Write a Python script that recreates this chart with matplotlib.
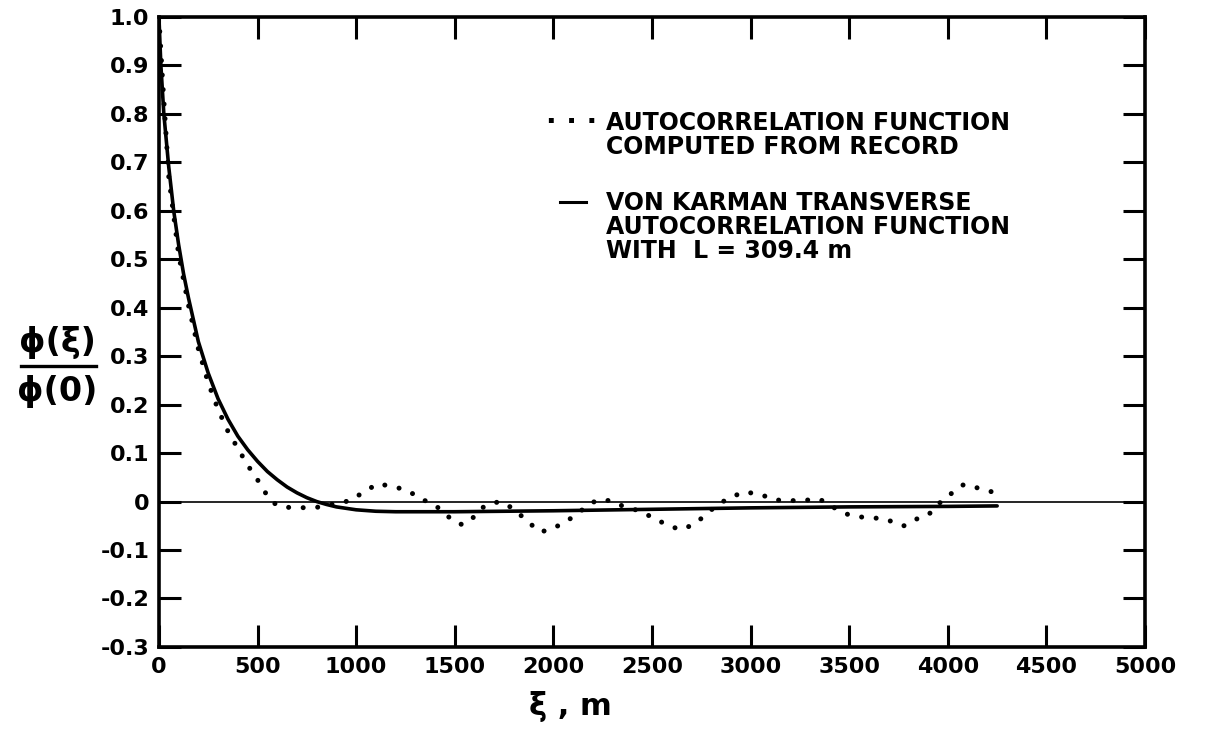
import numpy as np
import matplotlib
matplotlib.use('Agg')
import matplotlib.pyplot as plt

plt.rcParams['font.family'] = ['DejaVu Sans']

# von Karman transverse autocorrelation, L = 309.4 m
vk_x = [0, 10, 25, 50, 75, 100, 125, 150, 200, 250, 300, 350, 400, 450, 500,
        550, 600, 650, 700, 750, 800, 850, 900, 1000, 1100, 1200, 1500, 2000,
        2500, 3000, 3500, 4000, 4250]
vk_y = [1.0, 0.90, 0.80, 0.69, 0.60, 0.53, 0.47, 0.42, 0.33, 0.265, 0.212, 0.17,
        0.135, 0.107, 0.083, 0.062, 0.045, 0.030, 0.018, 0.008, 0.0, -0.006,
        -0.011, -0.017, -0.020, -0.021, -0.021, -0.019, -0.016, -0.013, -0.011,
        -0.010, -0.009]

# autocorrelation computed from record (dotted)
rec_x = [0, 20, 50, 100, 150, 200, 250, 300, 350, 400, 450, 500, 530, 560, 600,
         650, 700, 750, 800, 850, 900, 970, 1040, 1110, 1170, 1225, 1280, 1325,
         1390, 1440, 1490, 1540, 1590, 1615, 1665, 1730, 1800, 1865, 1935, 2000,
         2070, 2120, 2170, 2220, 2290, 2355, 2405, 2490, 2575, 2643, 2710, 2780,
         2815, 2880, 2965, 3050, 3115, 3170, 3250, 3350, 3420, 3500, 3580, 3670,
         3745, 3777, 3847, 3900, 3930, 3980, 4030, 4080, 4122, 4173, 4225, 4264]
rec_y = [1.0, 0.86, 0.67, 0.51, 0.405, 0.315, 0.245, 0.19, 0.145, 0.11, 0.075,
         0.045, 0.025, 0.005, -0.008, -0.012, -0.012, -0.013, -0.012, -0.008,
         -0.004, 0.002, 0.02, 0.037, 0.032, 0.027, 0.018, 0.006, -0.005, -0.02,
         -0.04, -0.048, -0.035, -0.02, -0.006, 0.0, -0.015, -0.04, -0.063,
         -0.055, -0.04, -0.025, -0.01, 0.003, 0.002, -0.01, -0.015, -0.03,
         -0.048, -0.058, -0.048, -0.025, -0.012, 0.005, 0.02, 0.015, 0.004,
         0.002, 0.002, 0.005, -0.012, -0.028, -0.033, -0.035, -0.045, -0.05,
         -0.035, -0.028, -0.015, 0.006, 0.02, 0.035, 0.032, 0.025, 0.02, 0.016]

xticks = np.arange(0, 5001, 500)
yticks = np.round(np.arange(-0.3, 1.01, 0.1), 1)
ytick_labels = ['-0.3', '-0.2', '-0.1', '0', '0.1', '0.2', '0.3', '0.4', '0.5',
                '0.6', '0.7', '0.8', '0.9', '1.0']

fig = plt.figure(figsize=(12.13, 7.36), dpi=100)
ax = fig.add_axes([0.131, 0.121, 0.813, 0.856])

ax.axhline(0, color='black', lw=1.2, zorder=1)
ax.plot(vk_x, vk_y, color='black', lw=2.6, solid_capstyle='round',
        solid_joinstyle='round', zorder=3)
ax.plot(rec_x, rec_y, color='black', lw=3.6, linestyle=(0, (0.01, 2.9)),
        dash_capstyle='round', zorder=2)

ax.set_xlim(0, 5000)
ax.set_ylim(-0.3, 1.0)
ax.set_xticks(xticks)
ax.set_xticklabels([str(v) for v in xticks])
ax.set_yticks(yticks)
ax.set_yticklabels(ytick_labels)
ax.tick_params(direction='in', length=16, width=2.2, top=True, right=True,
               labelsize=16, pad=7)
for lab in ax.get_xticklabels() + ax.get_yticklabels():
    lab.set_fontweight('bold')
for s in ax.spines.values():
    s.set_linewidth(2.6)

ax.text(0.417, -0.095, '\u03be , m', transform=ax.transAxes, fontsize=22,
        fontweight='bold', ha='center', va='center')

# y label as a stacked fraction
fig.text(0.047, 0.535, '\u03d5(\u03be)', fontsize=24, fontweight='bold',
         ha='center', va='center')
fig.text(0.047, 0.468, '\u03d5(0)', fontsize=24, fontweight='bold',
         ha='center', va='center')
fig.lines.append(plt.Line2D([0.017, 0.079], [0.503, 0.503],
                            transform=fig.transFigure, color='black', lw=2.4))

# legend, written as text like the original
lx = 0.500
fig.text(lx - 0.008, 0.834, '\u00b7 \u00b7 \u00b7', fontsize=20, fontweight='bold',
         ha='right', va='center')
fig.text(lx, 0.817, 'AUTOCORRELATION FUNCTION\nCOMPUTED FROM RECORD',
         fontsize=17, fontweight='bold', ha='left', va='center', linespacing=1.0)
fig.lines.append(plt.Line2D([0.462, 0.483], [0.726, 0.726],
                            transform=fig.transFigure, color='black', lw=2.2))
fig.text(lx, 0.692,
         'VON KARMAN TRANSVERSE\nAUTOCORRELATION FUNCTION\nWITH  L = 309.4 m',
         fontsize=17, fontweight='bold', ha='left', va='center', linespacing=1.0)

fig.savefig('out.png', dpi=100)
